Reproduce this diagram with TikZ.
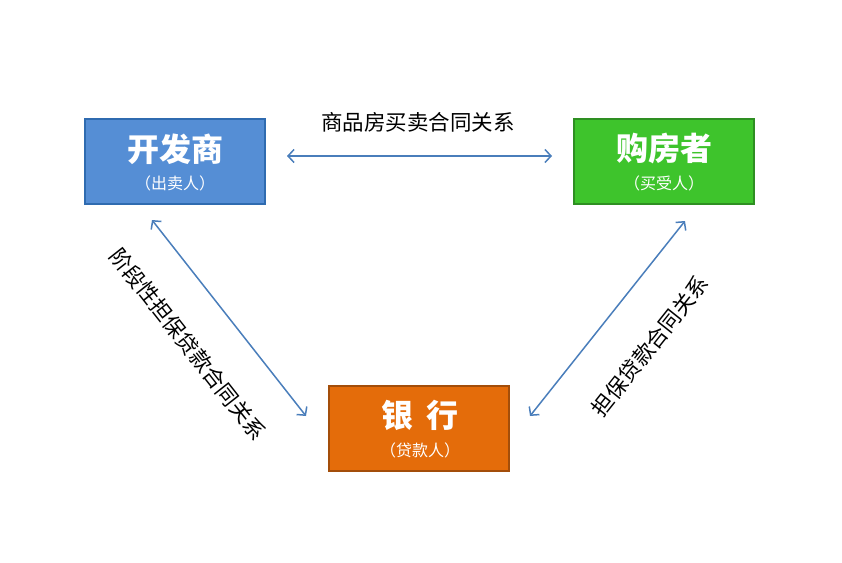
\documentclass[tikz,border=0pt]{standalone}
\usepackage{fontspec}
\setmainfont{Noto Sans CJK SC}
\newfontfamily\cjk{Noto Sans CJK SC}
\usetikzlibrary{arrows.meta}
\definecolor{cblue}{HTML}{558ED5}
\definecolor{cblueb}{HTML}{2F6BB0}
\definecolor{cgreen}{HTML}{3EC42C}
\definecolor{cgreenb}{HTML}{2E8F22}
\definecolor{corange}{HTML}{E46C0A}
\definecolor{coranb}{HTML}{A34E0A}
\definecolor{carrow}{HTML}{4A7EBB}
\tikzset{
  party/.style={draw, line width=2pt, minimum width=180pt, minimum height=85pt, inner sep=0pt},
  ttl/.style={text=white, font=\cjk\bfseries\fontsize{32}{36}\selectfont},
  sub/.style={text=white, font=\cjk\fontsize{16}{18}\selectfont},
  rel/.style={text=black, font=\cjk\fontsize{21.5}{24}\selectfont},
  link/.style={draw=carrow, line width=1.5pt, {Straight Barb[length=6pt,width=13pt]}-{Straight Barb[length=6pt,width=13pt]}}
}
\begin{document}
\begin{tikzpicture}[x=1pt,y=-1pt]
\useasboundingbox (0,0) rectangle (842,562);
\node[party, fill=cblue, draw=cblueb] (dev) at (174.5,161) {};
\node[party, fill=cgreen, draw=cgreenb] (buy) at (663.5,161) {};
\node[party, fill=corange, draw=coranb] (bank) at (419,428) {};
\node[ttl] (devt) at (175,149) {开发商};
\node[sub] (devs) at (175,183) {（出卖人）};
\node[ttl] (buyt) at (664,149) {购房者};
\node[sub] (buys) at (664,183) {（买受人）};
\node[ttl] (bankt) at (420,415) {银\hspace{0.4em}行};
\node[sub] (banks) at (420,450) {（贷款人）};
\coordinate (a1) at (287,156);
\coordinate (a2) at (552,156);
\coordinate (b1) at (152,220);
\coordinate (b2) at (306,416);
\coordinate (c1) at (685,221);
\coordinate (c2) at (530,416);
\draw[link] (a1) -- (a2);
\draw[link] (b1) -- (b2);
\draw[link] (c1) -- (c2);
\node[rel] (l1) at (418,122) {商品房买卖合同关系};
\node[rel, rotate=-51.8] (l2) at (188,344) {阶段性担保贷款合同关系};
\node[rel, rotate=51.5] (l3) at (650,346) {担保贷款合同关系};
\end{tikzpicture}
\end{document}
